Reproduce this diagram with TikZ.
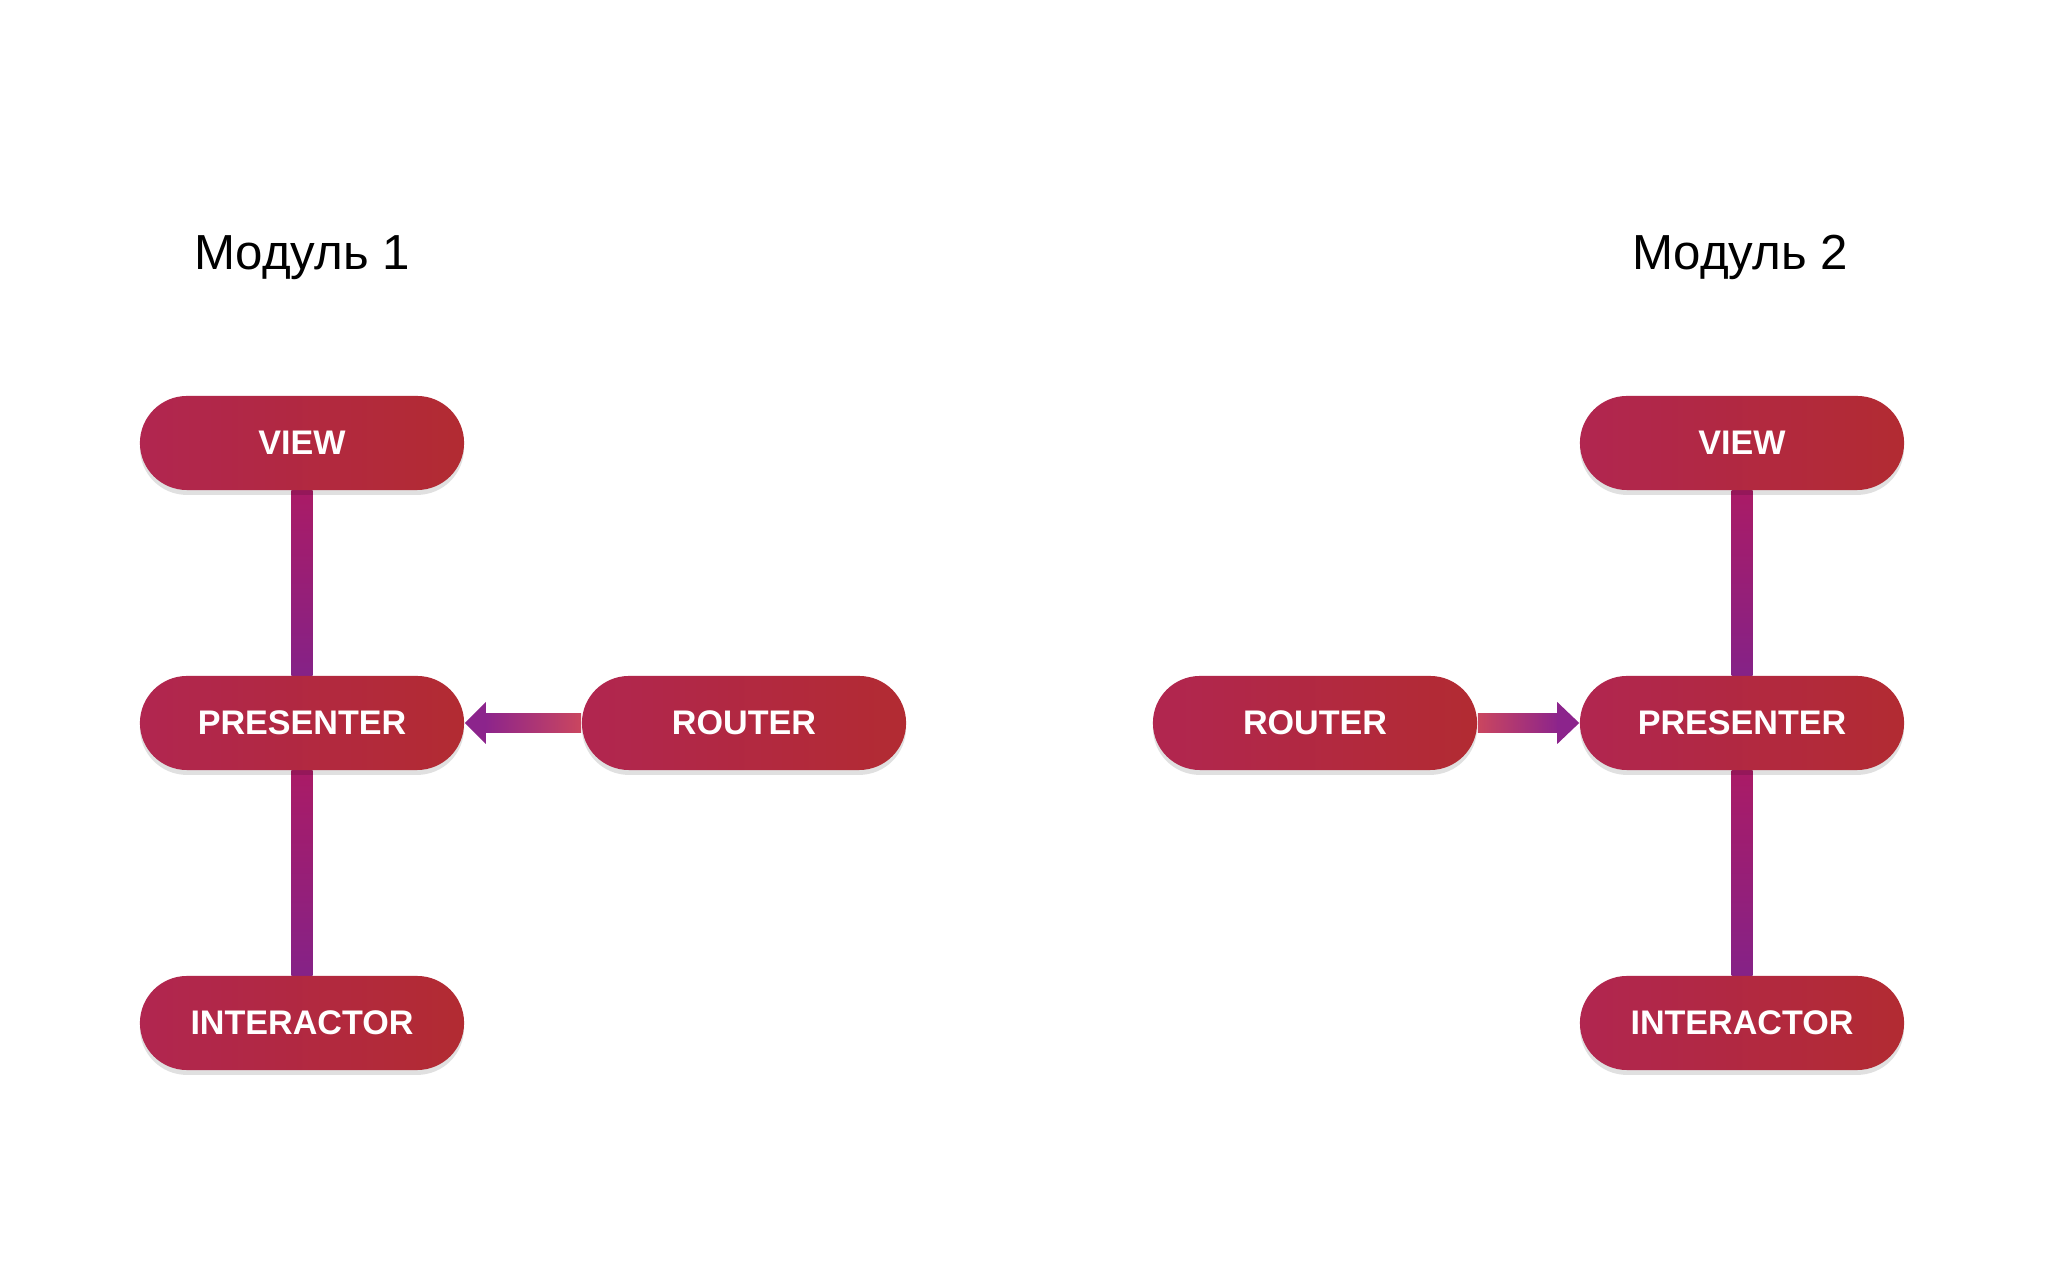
\documentclass[tikz,border=0pt]{standalone}
\usepackage{fontspec}
\setmainfont{Liberation Sans}
\usetikzlibrary{shapes.misc,shadows,backgrounds}
\definecolor{boxleft}{RGB}{177,38,80}
\definecolor{boxright}{RGB}{178,43,50}
\definecolor{linetop}{RGB}{170,27,102}
\definecolor{linebot}{RGB}{133,34,135}
\definecolor{arrowfar}{RGB}{202,70,95}
\definecolor{arrowtip}{RGB}{140,36,140}
\newcommand{\modtitle}[1]{\fontsize{14}{17}\selectfont #1}

\begin{document}
\begin{tikzpicture}[x=0.01cm,y=-0.01cm,
    part/.style={rounded rectangle,minimum width=3.24cm,minimum height=0.94cm,inner sep=0pt,
                 left color=boxleft,right color=boxright,text=white,
                 font=\bfseries\fontsize{9.7}{12}\selectfont,
                 drop shadow={shadow xshift=0pt,shadow yshift=-1.4pt,opacity=0.12,fill=black}},
    title/.style={anchor=base,font=\modtitle{}}
    ]
    \useasboundingbox (0,0) rectangle (2048,1280);

    % Module 1
    \node[title] (t1) at (302,270) {Модуль 1};
    \node[part] (v1) at (302,443) {VIEW};
    \node[part] (p1) at (302,723) {PRESENTER};
    \node[part] (r1) at (744,723) {ROUTER};
    \node[part] (i1) at (302,1023) {INTERACTOR};

    % Module 2
    \node[title] (t2) at (1740,270) {Модуль 2};
    \node[part] (v2) at (1742,443) {VIEW};
    \node[part] (p2) at (1742,723) {PRESENTER};
    \node[part] (r2) at (1315,723) {ROUTER};
    \node[part] (i2) at (1742,1023) {INTERACTOR};

    % Links
    \begin{scope}[on background layer]
        \fill[white] (0,0) rectangle (2048,1280);
        \foreach \a/\b in {v1/p1,p1/i1,v2/p2,p2/i2}
            \shade[top color=linetop,bottom color=linebot] ([xshift=-0.105cm]\a.south) rectangle ([xshift=0.105cm]\b.north);
    \end{scope}

    % Router -> Presenter
    \shade[left color=arrowtip,right color=arrowfar] ([shift={(20,-9.5)}]p1.east) rectangle ([yshift=-0.095cm]r1.west);
    \fill[arrowtip] (p1.east) -- ++(21,-21) -- ++(0,42) -- cycle;
    \shade[left color=arrowfar,right color=arrowtip] ([yshift=0.095cm]r2.east) rectangle ([shift={(-20,9.5)}]p2.west);
    \fill[arrowtip] (p2.west) -- ++(-22,-21) -- ++(0,42) -- cycle;
\end{tikzpicture}
\end{document}
